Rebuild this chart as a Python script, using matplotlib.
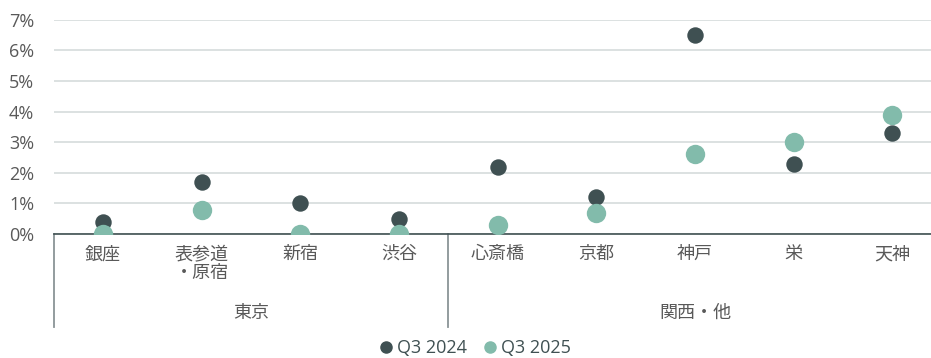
import matplotlib.pyplot as plt
from matplotlib.lines import Line2D
from matplotlib.ticker import PercentFormatter

plt.rcParams['font.family'] = ['Open Sans', 'Noto Sans CJK JP', 'DejaVu Sans']

areas = ['銀座', '表参道\n・原宿', '新宿', '渋谷', '心斎橋', '京都', '神戸', '栄', '天神']
groups = ['東京', '関西・他']
group_sizes = [4, 5]
q3_2024 = [0.4, 1.7, 1.0, 0.5, 2.2, 1.2, 6.5, 2.3, 3.3]
q3_2025 = [0.0, 0.8, 0.0, 0.0, 0.3, 0.7, 2.6, 3.0, 3.9]

dark = '#3f5052'
teal = '#82bbab'
txt = '#595959'

fig = plt.figure(figsize=(9.31, 3.58), dpi=100)
ax = fig.add_axes([0.0575, 0.3464, 0.954, 0.598])

x = list(range(len(areas)))
ax.scatter(x, q3_2024, s=140, color=dark, zorder=3, linewidths=0)
ax.scatter(x, q3_2025, s=195, color=teal, zorder=4, linewidths=0)

ax.set_xlim(-0.5, len(areas) - 0.5)
ax.set_ylim(0, 7)
ax.set_yticks(range(8))
ax.yaxis.set_major_formatter(PercentFormatter(decimals=0))
ax.grid(axis='y', color='#d5dbdb', linewidth=1.2)
ax.set_axisbelow(True)
for s in ['top', 'right', 'left']:
    ax.spines[s].set_visible(False)
ax.spines['bottom'].set_color(dark)
ax.spines['bottom'].set_linewidth(1.2)
ax.spines['bottom'].set_zorder(2)
ax.tick_params(axis='y', length=0, labelsize=13, labelcolor=txt, pad=14)
ax.set_xticks(x)
ax.set_xticklabels([])
ax.tick_params(axis='x', length=0)

# category labels under the axis
for xi, name in zip(x, areas):
    ax.annotate(name, (xi, 0), xycoords=('data', 'axes fraction'),
                xytext=(0, -8), textcoords='offset points',
                ha='center', va='top', fontsize=13, color=txt, linespacing=1.1)

# group brackets and labels
start = 0
bounds = [-0.5]
for g, n in zip(groups, group_sizes):
    mid = start + (n - 1) / 2
    ax.annotate(g, (mid, 0), xycoords=('data', 'axes fraction'),
                xytext=(0, -57), textcoords='offset points',
                ha='center', va='center', fontsize=13, color=txt)
    start += n
    bounds.append(start - 0.5)
for b in bounds:
    ax.plot([b, b], [0, -0.435], transform=ax.get_xaxis_transform(),
            color='#8a9496', linewidth=1.3, clip_on=False)

handles = [
    Line2D([], [], marker='o', linestyle='none', markersize=8, color=dark, label='Q3 2024'),
    Line2D([], [], marker='o', linestyle='none', markersize=8, color=teal, label='Q3 2025'),
]
leg = fig.legend(handles=handles, loc='center', bbox_to_anchor=(0.51, 0.028), ncol=2,
                 frameon=False, fontsize=13, handletextpad=0.2, columnspacing=0.9,
                 handlelength=0.8)
for t in leg.get_texts():
    t.set_color(dark)

fig.savefig('out.png', dpi=100)
